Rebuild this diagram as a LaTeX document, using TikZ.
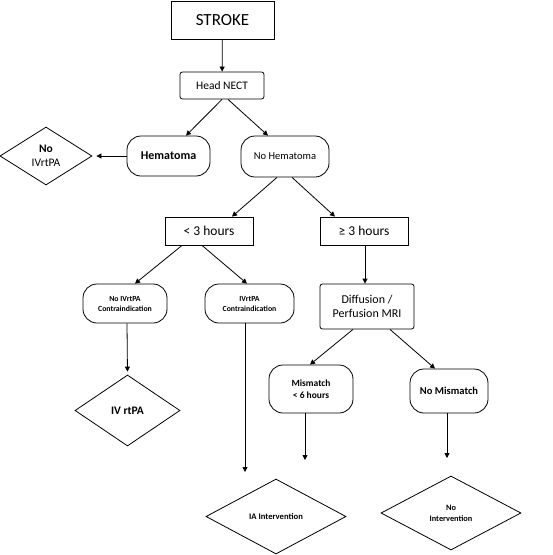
\documentclass[tikz,border=0pt]{standalone}
\usepackage{fontspec}
\setmainfont{Carlito}
\usetikzlibrary{arrows.meta, positioning, shapes.geometric}
\usepackage{amsmath}
\usepackage{xcolor}

\begin{document}
\begin{tikzpicture}[
    x=1pt, y=-1pt,
    line width=0.8pt,
    >={Triangle[length=5pt, width=5pt]},
    box node/.style={rectangle, draw, inner sep=0pt, align=center},
    soft node/.style={box node, rounded corners=2.5pt},
    pill node/.style={box node, rounded corners=14pt},
    decision node/.style={diamond, draw, inner sep=0pt, align=center}
]
    \useasboundingbox (0,0) rectangle (553,555);

    % Nodes
    \node[box node, minimum width=103pt, minimum height=38pt, font=\fontsize{17}{19}\selectfont] (stroke) at (222.5,20) {STROKE};
    \node[soft node, minimum width=84pt, minimum height=27pt, font=\fontsize{11.5}{13}\selectfont] (head) at (222,85.5) {Head NECT};
    \node[pill node, minimum width=83pt, minimum height=40pt, font=\fontsize{12}{14}\selectfont\bfseries] (hema) at (168.5,156) {Hematoma};
    \node[pill node, minimum width=88pt, minimum height=41pt, font=\fontsize{10.5}{12}\selectfont] (nohema) at (285,156.5) {No Hematoma};
    \node[decision node, minimum width=92pt, minimum height=58pt, font=\fontsize{11.5}{14}\selectfont] (noiv) at (46,156) {\textbf{No}\\IVrtPA};

    \node[box node, minimum width=88pt, minimum height=28pt, font=\fontsize{13.5}{15}\selectfont] (lt3) at (209,231) {< 3 hours};
    \node[box node, minimum width=88pt, minimum height=28pt, font=\fontsize{13.5}{15}\selectfont] (ge3) at (364,231) {≥ 3 hours};

    \node[pill node, minimum width=84pt, minimum height=39pt, font=\fontsize{7.8}{10}\selectfont\bfseries] (nocontra) at (125,303.5) {No IVrtPA\\Contraindication};
    \node[pill node, minimum width=89pt, minimum height=39pt, font=\fontsize{7.8}{10}\selectfont\bfseries] (contra) at (249.5,303.5) {IVrtPA\\Contraindication};
    \node[soft node, minimum width=94pt, minimum height=45pt, font=\fontsize{12}{14.5}\selectfont] (mri) at (367,306.5) {Diffusion /\\Perfusion MRI};

    \node[pill node, minimum width=84pt, minimum height=48pt, font=\fontsize{9.5}{12.5}\selectfont\bfseries] (mism) at (311,389) {Mismatch\\< 6 hours};
    \node[pill node, minimum width=78pt, minimum height=44pt, font=\fontsize{10.5}{12}\selectfont\bfseries] (nomism) at (449,391) {No Mismatch};

    \node[decision node, minimum width=105pt, minimum height=71pt, font=\fontsize{11.5}{13}\selectfont\bfseries] (ivrtpa) at (127.5,410.5) {IV rtPA};
    \node[decision node, minimum width=140pt, minimum height=75pt, font=\fontsize{8.6}{10}\selectfont\bfseries] (ia) at (276,516.5) {IA Intervention};
    \node[decision node, minimum width=140pt, minimum height=74pt, font=\fontsize{8.3}{11}\selectfont\bfseries] (noint) at (451,513) {No\\Intervention};

    % Free ends
    \coordinate (iaend) at (245,472);
    \coordinate (mmend) at (305,460);
    \coordinate (nmend) at (447,458);

    % Edges
    \draw[->] (stroke) -- (head);
    \draw[->] (head.south) -- ([xshift=17.5pt]hema.north);
    \draw[->] ([xshift=6pt]head.south) -- ([xshift=-17pt]nohema.north);
    \draw[->, shorten >=4pt] (hema) -- (noiv);
    \draw[->] ([xshift=-8pt]nohema.south) -- ([xshift=23pt]lt3.north);
    \draw[->] ([xshift=7pt]nohema.south) -- ([xshift=-29pt]ge3.north);
    \draw[->] ([xshift=-27pt]lt3.south) -- ([xshift=10pt]nocontra.north);
    \draw[->] ([xshift=-7pt]lt3.south) -- ([xshift=-2.5pt]contra.north);
    \draw[->] ([xshift=1pt]ge3.south) -- ([xshift=-2pt]mri.north);
    \draw[->] ([xshift=-14pt]mri.south) -- ([xshift=-1pt]mism.north);
    \draw[->] ([xshift=23pt]mri.south) -- ([xshift=-14pt]nomism.north);
    \draw[->, shorten >=3pt] ([xshift=2pt]nocontra.south) -- (ivrtpa.north);
    \draw[->] ([xshift=-4.5pt]contra.south) -- (iaend);
    \draw[->] ([xshift=-6pt]mism.south) -- (mmend);
    \draw[->] ([xshift=-2pt]nomism.south) -- (nmend);
\end{tikzpicture}
\end{document}
